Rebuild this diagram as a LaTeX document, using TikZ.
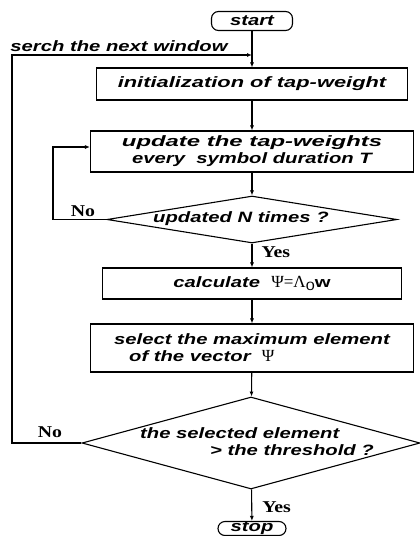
\documentclass[tikz,border=0pt]{standalone}
\usepackage{fontspec}
\usetikzlibrary{shapes.geometric,arrows.meta,positioning}
\newfontfamily\flowfont[FakeStretch=1.35]{Liberation Sans}
\newfontfamily\labfont[FakeStretch=1.2]{Liberation Serif}
\newfontfamily\greekfont{Liberation Serif}
\newcommand{\grk}[1]{{\greekfont\mdseries\upshape\fontsize{17}{17}\selectfont #1}}

\begin{document}
\begin{tikzpicture}[x=1pt,y=-1pt,>={Latex[length=5pt,width=4pt]},line width=1.1pt,
		every node/.style = {inner sep = 0pt},
		flow text/.style = {font=\flowfont\bfseries\itshape\fontsize{15}{17}\selectfont},
		end node/.style = {rectangle,rounded corners=7pt,draw,flow text},
		main node/.style = {rectangle,draw,align=center,flow text},
		test node/.style = {diamond,draw,inner sep = 0pt},
		answer/.style = {font=\labfont\bfseries\fontsize{16.5}{18}\selectfont}]
		\useasboundingbox (0,0) rectangle (420,536);
		
		\node[end node,minimum width=81pt,minimum height=19pt] (0) at (252,21) {start};
		\node[main node,minimum width=311pt,minimum height=32pt] (1) at (252,84)
			{\scalebox{1.08}[1]{initialization of tap-weight}};
		\node[main node,minimum width=323pt,minimum height=41pt] (2) at (252,151.5)
			{\scalebox{1.18}[1]{update the tap-weights}\\ every\ \ symbol duration T};
		\node[test node,minimum width=290pt,minimum height=47pt] (3) at (252,219.5) {};
		\node[flow text] (3t) at (241,219) {updated N times ?};
		\node[main node,minimum width=299pt,minimum height=31pt] (4) at (252,283.5)
			{calculate\ \ \grk{Ψ=Λ}{\mdseries\upshape\fontsize{12}{12}\selectfont\raisebox{-3pt}{0}}{\upshape w}};
		\node[main node,align=left,minimum width=323pt,minimum height=48pt] (5) at (252,348)
			{select the maximum element\\\hspace*{15pt}of the vector\ \ \grk{Ψ}};
		\node[test node,minimum width=338pt,minimum height=92pt] (6) at (251,443) {};
		\node[flow text,align=left] (6t) at (257,442) {the selected element\\\hspace*{70pt}> the threshold ?};
		\node[end node,minimum width=68pt,minimum height=14pt] (7) at (252,528.5) {stop};
		\node[flow text] (8) at (119,46) {serch the next window};
		
		% loop points
		\coordinate (a) at (252,55);
		\coordinate (b) at (12,55);
		\coordinate (c) at (53,147);
		
		\path[->]
		(0) edge (1)
		(1) edge (2)
		(2) edge (3)
		(3) edge node[answer,pos=0.38,right=9pt] {Yes} (4)
		(4) edge (5)
		(5) edge (6)
		(6) edge node[answer,pos=0.55,right=10pt] {Yes} (7);
		
		\draw[->] (3.west) -| (c) -- (c -| 2.west);
		\draw[->] (6.west) -| (b) -- (a);
		\node[answer] at (83,211) {No};
		\node[answer] at (50,432) {No};
		\end{tikzpicture}
\end{document}
